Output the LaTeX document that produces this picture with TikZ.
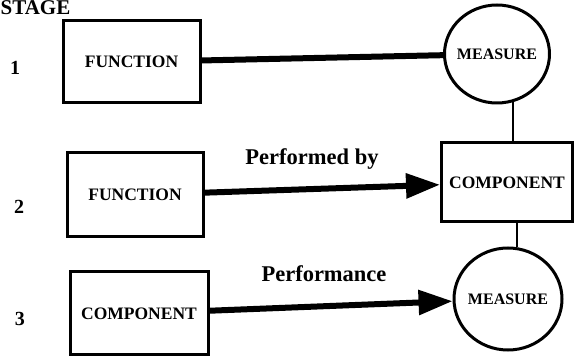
\documentclass[tikz,border=0pt]{standalone}
\usepackage{fontspec}
\setmainfont{Liberation Serif}
\usetikzlibrary{shapes.geometric,arrows.meta}

\begin{document}
\begin{tikzpicture}[x=1pt,y=-1pt,
  boxtext/.style={font=\bfseries\fontsize{17.5}{19}\selectfont},
  block/.style={draw, line width=3pt, rectangle, inner sep=0pt, boxtext},
  measure/.style={draw, line width=3pt, ellipse, inner sep=0pt,
    font=\bfseries\fontsize{16}{18}\selectfont},
  link/.style={line width=6pt},
  flow/.style={line width=6pt, -{Triangle[length=34pt,width=24pt]}},
  tie/.style={line width=1.8pt},
  lbl/.style={font=\bfseries\fontsize{22.5}{25}\selectfont, anchor=base},
  stagenum/.style={font=\bfseries\fontsize{20}{22}\selectfont, anchor=base}]

  \useasboundingbox (0,0) rectangle (574,358);
  \fill[white] (0,0) rectangle (574,358);

  % column header and stage numbers
  \node[lbl, anchor=base west, inner sep=0pt, font=\bfseries\fontsize{21}{24}\selectfont] (stage) at (0.5,15) {STAGE};
  \node[stagenum] (s1) at (15,75) {1};
  \node[stagenum] (s2) at (19,214) {2};
  \node[stagenum] (s3) at (20,326) {3};

  % stage 1 (ellipse text kept in a narrow box so the outline size is set by minimum width/height)
  \node[block, minimum width=137pt, minimum height=82pt] (f1) at (131.5,62) {FUNCTION};
  \node[measure, minimum width=105pt, minimum height=98pt] (m1) at (497,54) {\makebox[50pt]{MEASURE}};

  % stage 2
  \node[block, minimum width=136pt, minimum height=84pt] (f2) at (135,195) {FUNCTION};
  \node[block, minimum width=131pt, minimum height=79pt] (c2) at (507,182.5) {COMPONENT};

  % stage 3
  \node[block, minimum width=138pt, minimum height=83pt] (c3) at (139,313.5) {COMPONENT};
  \node[measure, minimum width=108pt, minimum height=102pt] (m3) at (508,299) {\makebox[50pt]{MEASURE}};

  % connectors
  \draw[link] (f1) -- (m1);
  \draw[flow] (f2) -- (c2);
  \draw[flow] (c3) -- (m3);
  \draw[tie] (m1.-72) -- (m1.-72 |- c2.north);
  \draw[tie] (m3.80) -- (m3.80 |- c2.south);

  % connector labels
  \node[lbl] (pby) at (312,165) {Performed by};
  \node[lbl] (pf) at (324,282) {Performance};
\end{tikzpicture}
\end{document}
